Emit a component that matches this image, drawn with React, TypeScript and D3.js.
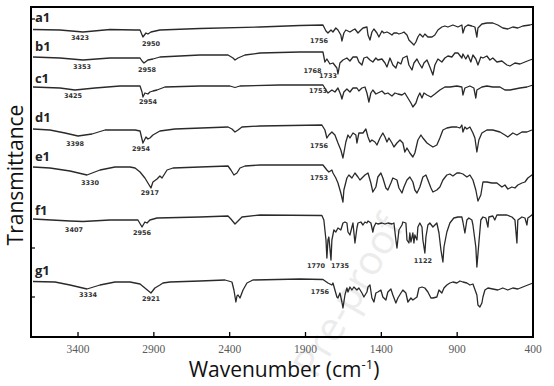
import React from "react";
import * as d3 from "d3";

type P = [number, number];

const xTickValues = [3400, 2900, 2400, 1900, 1400, 900, 400];
const yTickValues = [40, 89, 318];

const a1Data: P[] = [
  [3697, 307.5], [3519, 307], [3367, 305], [3189, 307.5], [3024, 307], [2991, 307], [2972, 300], [2952, 304], [2939, 303], [2919, 305], [2860, 307], [2596, 308.5], [2200, 310], [1937, 311.5], [1785, 312],
  [1765, 306], [1752, 304], [1732, 307], [1719, 305], [1700, 309], [1686, 307], [1667, 302], [1660, 296], [1647, 304], [1634, 307], [1607, 305], [1587, 307], [1574, 308], [1554, 304], [1535, 307], [1521, 309], [1495, 310], [1488, 302], [1475, 297], [1462, 305], [1449, 308], [1429, 304], [1416, 300], [1396, 306], [1383, 304], [1363, 305], [1350, 304], [1330, 302], [1317, 304], [1297, 304], [1284, 303], [1264, 304], [1251, 305], [1231, 302], [1218, 297], [1198, 294], [1185, 292], [1172, 295], [1159, 300], [1146, 303], [1126, 300], [1113, 303], [1093, 300], [1066, 300], [1047, 302], [1027, 307], [1001, 310], [981, 311], [961, 310], [928, 312], [895, 310], [869, 312], [862, 304], [849, 310], [829, 312], [803, 311], [783, 310], [770, 300], [763, 309], [737, 313], [704, 314], [665, 314], [632, 312], [599, 309], [566, 308], [533, 310], [500, 309], [467, 311], [420, 312], [400, 313],
];

const b1Data: P[] = [
  [3697, 280], [3519, 279], [3367, 277], [3189, 279], [2991, 279], [2978, 276], [2965, 274], [2939, 277], [2906, 278], [2860, 280], [2596, 282], [2411, 282], [2378, 279], [2365, 277], [2345, 279], [2299, 282], [2200, 284], [1937, 285], [1785, 285],
  [1772, 275], [1759, 278], [1739, 273], [1719, 274], [1693, 269], [1686, 263], [1673, 274], [1653, 277], [1627, 279], [1607, 276], [1587, 280], [1561, 280], [1548, 275], [1528, 272], [1515, 279], [1495, 280], [1475, 277], [1456, 275], [1436, 279], [1423, 277], [1396, 278], [1376, 274], [1363, 270], [1343, 279], [1324, 272], [1304, 269], [1291, 275], [1271, 273], [1258, 279], [1231, 281], [1218, 272], [1198, 267], [1185, 274], [1165, 278], [1152, 274], [1132, 269], [1119, 274], [1099, 277], [1080, 270], [1060, 262], [1047, 272], [1027, 278], [1001, 275], [981, 279], [961, 281], [935, 280], [915, 284], [895, 284], [869, 279], [862, 283], [843, 278], [829, 282], [810, 275], [796, 282], [777, 278], [763, 272], [744, 280], [730, 279], [704, 281], [684, 277], [665, 279], [638, 275], [605, 276], [572, 272], [552, 271], [519, 274], [486, 273], [453, 275], [420, 277], [400, 278],
];

const c1Data: P[] = [
  [3697, 250], [3519, 249], [3420, 247], [3288, 249], [3123, 251], [2991, 251], [2978, 245], [2972, 240], [2959, 244], [2939, 243], [2926, 245], [2906, 246], [2879, 247], [2827, 250], [2596, 251], [2398, 251], [2365, 249.5], [2332, 251], [2069, 252], [1785, 252],
  [1765, 247], [1752, 244], [1726, 247], [1706, 245], [1686, 249], [1667, 242], [1660, 238], [1647, 245], [1627, 248], [1607, 245], [1587, 249], [1561, 249], [1548, 246], [1528, 249], [1508, 250], [1495, 244], [1482, 235], [1469, 244], [1456, 247], [1436, 243], [1423, 244], [1396, 246], [1376, 243], [1357, 244], [1330, 241], [1310, 244], [1291, 243], [1264, 242], [1245, 244], [1225, 239], [1205, 234], [1192, 230], [1172, 234], [1159, 240], [1146, 244], [1132, 239], [1119, 244], [1099, 242], [1073, 240], [1047, 243], [1014, 247], [981, 250], [948, 250], [902, 251], [869, 250], [862, 242], [849, 249], [816, 251], [790, 249], [777, 239], [770, 247], [737, 250], [704, 251], [665, 250], [618, 250], [585, 247], [552, 247], [519, 248], [486, 249], [440, 250], [400, 252],
];

const d1Data: P[] = [
  [3697, 208], [3585, 207], [3486, 204], [3400, 201], [3308, 203], [3222, 207], [3024, 207], [2991, 206], [2972, 194], [2952, 200], [2939, 198], [2926, 199], [2906, 202], [2860, 206], [2761, 208], [2411, 210], [2385, 208], [2365, 205], [2345, 207], [2319, 210], [2200, 211], [1792, 212],
  [1772, 207], [1759, 199], [1746, 202], [1726, 205], [1706, 202], [1686, 194], [1667, 187], [1653, 179], [1634, 195], [1620, 202], [1607, 199], [1587, 204], [1568, 202], [1561, 194], [1548, 204], [1521, 204], [1502, 208], [1488, 200], [1475, 195], [1462, 197], [1442, 195], [1429, 192], [1409, 199], [1390, 204], [1376, 200], [1363, 195], [1350, 199], [1330, 194], [1317, 190], [1297, 194], [1277, 197], [1258, 194], [1245, 185], [1231, 189], [1212, 184], [1192, 180], [1179, 184], [1159, 197], [1139, 202], [1126, 199], [1099, 194], [1080, 192], [1060, 190], [1034, 192], [1014, 199], [994, 207], [968, 209], [935, 210], [902, 210], [882, 209], [869, 212], [862, 205], [849, 210], [836, 208], [816, 210], [796, 204], [783, 199], [770, 185], [757, 197], [737, 204], [704, 207], [665, 207], [618, 205], [585, 202], [566, 200], [533, 204], [506, 202], [473, 205], [440, 205], [407, 207], [400, 207.5],
];

const e1Data: P[] = [
  [3697, 170], [3585, 169], [3453, 166], [3341, 162], [3255, 167], [3156, 170], [3057, 170], [3024, 169], [2991, 165], [2959, 159], [2919, 149], [2906, 155], [2879, 158], [2860, 161], [2846, 159], [2813, 167], [2774, 169], [2596, 170], [2411, 171], [2392, 167], [2372, 162], [2352, 164], [2332, 169], [2299, 171], [2200, 172], [1785, 172],
  [1759, 167], [1746, 165], [1726, 167], [1719, 164], [1700, 159], [1686, 154], [1667, 144], [1653, 135], [1647, 147], [1627, 159], [1614, 162], [1594, 159], [1574, 164], [1554, 160], [1541, 157], [1521, 160], [1508, 162], [1488, 164], [1469, 154], [1456, 145], [1436, 150], [1423, 160], [1403, 164], [1390, 159], [1370, 149], [1357, 147], [1337, 154], [1324, 159], [1297, 157], [1284, 149], [1264, 144], [1251, 150], [1231, 157], [1212, 160], [1192, 155], [1179, 147], [1165, 144], [1146, 150], [1126, 160], [1106, 162], [1093, 157], [1073, 149], [1060, 145], [1034, 147], [1014, 150], [994, 157], [968, 162], [948, 163], [928, 161], [902, 164], [882, 164], [862, 163], [836, 160], [816, 162], [796, 157], [777, 147], [763, 136], [744, 142], [730, 155], [704, 155], [671, 154], [638, 154], [605, 150], [585, 152], [566, 148], [539, 150], [519, 149], [500, 152], [473, 154], [453, 155], [434, 159], [407, 162], [400, 163],
];

const f1Data: P[] = [
  [3697, 118], [3453, 116], [3367, 115.5], [3189, 117], [3005, 117], [2978, 110], [2959, 115], [2945, 114], [2926, 117], [2879, 119], [2596, 120], [2411, 121], [2392, 118], [2365, 113], [2345, 116], [2319, 120], [2200, 122], [1792, 121.5],
  [1779, 117], [1765, 97], [1759, 79], [1752, 97], [1746, 100], [1732, 77], [1726, 97], [1713, 107], [1700, 105], [1686, 109], [1667, 107], [1653, 114], [1640, 115], [1627, 114], [1620, 105], [1607, 102], [1594, 110], [1587, 114], [1574, 94], [1561, 109], [1554, 114], [1535, 115], [1521, 112], [1508, 115], [1495, 114], [1488, 116], [1469, 114], [1456, 105], [1449, 110], [1436, 114], [1423, 113], [1396, 114], [1376, 113], [1357, 114], [1330, 113], [1317, 114], [1304, 97], [1297, 89], [1284, 107], [1264, 112], [1258, 115], [1238, 114], [1231, 97], [1218, 94], [1212, 104], [1205, 95], [1192, 104], [1185, 94], [1179, 102], [1165, 97], [1159, 110], [1146, 114], [1132, 110], [1126, 97], [1113, 84], [1106, 100], [1093, 112], [1080, 114], [1060, 110], [1047, 112], [1034, 114], [1020, 104], [1007, 87], [994, 75], [987, 90], [968, 105], [948, 114], [922, 119], [895, 120], [869, 120], [862, 115], [849, 104], [836, 117], [823, 119], [803, 117], [796, 112], [777, 90], [770, 70], [757, 94], [744, 117], [730, 120], [711, 119], [697, 110], [691, 120], [665, 121], [652, 117], [638, 122], [572, 122], [539, 120], [519, 117], [506, 94], [500, 117], [473, 120], [453, 119], [440, 112], [434, 119], [407, 122], [400, 124],
];

const g1Data: P[] = [
  [3697, 55.5], [3552, 55], [3453, 52], [3341, 48], [3255, 52], [3156, 55], [3057, 55], [2991, 53], [2959, 49], [2919, 44], [2893, 49], [2860, 52], [2840, 54], [2794, 55], [2596, 56], [2431, 57], [2385, 55], [2372, 47], [2359, 35], [2352, 41], [2345, 42], [2332, 39], [2312, 47], [2286, 54], [2247, 57], [1937, 58], [1785, 57.5],
  [1752, 54], [1726, 52], [1719, 54], [1706, 47], [1693, 40], [1686, 39], [1673, 44], [1660, 35], [1653, 29], [1640, 42], [1627, 49], [1620, 45], [1607, 50], [1594, 47], [1581, 50], [1561, 47], [1548, 49], [1528, 44], [1515, 40], [1495, 45], [1488, 50], [1475, 52], [1462, 39], [1449, 35], [1436, 44], [1423, 45], [1403, 47], [1390, 40], [1370, 37], [1357, 45], [1337, 48], [1324, 42], [1304, 34], [1291, 39], [1271, 44], [1258, 47], [1238, 44], [1225, 35], [1205, 39], [1192, 37], [1165, 40], [1152, 49], [1132, 50], [1113, 49], [1093, 45], [1073, 39], [1060, 39], [1034, 40], [1020, 47], [1001, 44], [987, 49], [968, 52], [948, 54], [928, 55], [902, 54], [882, 56], [862, 55], [836, 54], [816, 52], [796, 53], [770, 42], [763, 32], [750, 30], [737, 34], [730, 40], [717, 47], [697, 49], [665, 48], [632, 47], [599, 49], [566, 47], [533, 49], [500, 48], [467, 50], [434, 52], [400, 54],
];

const seriesNames = ["a1", "b1", "c1", "d1", "e1", "f1", "g1"];
const seriesData = [a1Data, b1Data, c1Data, d1Data, e1Data, f1Data, g1Data];
// [wavenumber, transmittance] where each series name is written
const seriesLabelPos: P[] = [[3684, 315], [3684, 286], [3684, 254], [3684, 215], [3684, 176], [3684, 122], [3684, 62]];

// peak annotations: text, wavenumber, transmittance of text baseline
const peakTexts = ["3423", "2950", "1756", "3353", "2958", "1768", "1733", "3425", "2954", "1753", "3398", "2954", "1756", "3330", "2917", "1753", "3407", "2956", "1770", "1735", "1122", "3334", "2921", "1756"];
const peakWn = [3387, 2919, 1811, 3374, 2945, 1854, 1752, 3433, 2939, 1818, 3420, 2985, 1811, 3321, 2926, 1811, 3427, 2978, 1831, 1673, 1126, 3334, 2919, 1805];
const peakT = [297, 291, 294, 268, 265, 264.5, 259, 239, 233, 244, 191, 186, 189, 152, 142, 157, 105, 102, 69, 69, 74, 40, 36, 43];

const W = 554;
const H = 386;
const M = { left: 31, right: 533, top: 7, bottom: 337 };

export default function App() {
  const x = d3.scaleLinear().domain([3710, 400]).range([M.left, M.right]);
  const y = d3.scaleLinear().domain([0, 330]).range([M.bottom, M.top]);
  const line = d3
    .line<P>()
    .x((d) => x(d[0]))
    .y((d) => y(d[1]))
    .curve(d3.curveLinear);

  return (
    <svg
      width={W}
      height={H}
      style={{ position: "absolute", left: 0, top: 0, background: "#fff" }}
    >
      <rect x={0} y={0} width={W} height={H} fill="#fff" />
      {/* watermark */}
      <text
        x={0}
        y={0}
        transform={`translate(405,226) rotate(-60)`}
        textAnchor="end"
        fontFamily="'Open Sans', sans-serif"
        fontSize={40}
        fill="#ececec"
      >
        Pre-proof
      </text>

      {seriesData.map((d, i) => (
        <path
          key={seriesNames[i]}
          d={line(d) || ""}
          fill="none"
          stroke="#2a2a2a"
          strokeWidth={1.3}
          strokeLinejoin="round"
        />
      ))}

      {seriesNames.map((n, i) => (
        <text
          key={"lbl" + n}
          x={x(seriesLabelPos[i][0])}
          y={y(seriesLabelPos[i][1])}
          fontFamily="'Open Sans', sans-serif"
          fontWeight="bold"
          fontSize={13}
          fill="#222"
        >
          {n}
        </text>
      ))}

      {peakTexts.map((t, i) => (
        <text
          key={"pk" + i}
          x={x(peakWn[i])}
          y={y(peakT[i])}
          textAnchor="middle"
          fontFamily="'DejaVu Sans', sans-serif"
          fontWeight="bold"
          fontSize={6.5}
          fill="#333"
        >
          {t}
        </text>
      ))}

      {/* frame */}
      <rect
        x={M.left}
        y={M.top}
        width={M.right - M.left}
        height={M.bottom - M.top}
        fill="none"
        stroke="#000"
        strokeWidth={2}
      />
      {xTickValues.map((v) => (
        <g key={"xt" + v}>
          <line x1={x(v)} x2={x(v)} y1={M.bottom} y2={M.bottom - 5} stroke="#000" strokeWidth={1.3} />
          <text
            x={x(v)}
            y={M.bottom + 16}
            textAnchor="middle"
            fontFamily="'Liberation Serif', serif"
            fontSize={11.5}
            fill="#5a5a5a"
          >
            {v}
          </text>
        </g>
      ))}
      {yTickValues.map((v) => (
        <line key={"yt" + v} x1={M.left} x2={M.left + 4} y1={y(v)} y2={y(v)} stroke="#000" strokeWidth={1.2} />
      ))}

      <text
        transform={`translate(23,${(M.top + M.bottom) / 2 + 3}) rotate(-90)`}
        textAnchor="middle"
        fontFamily="'Open Sans', sans-serif"
        fontSize={21}
        fill="#111"
      >
        Transmittance
      </text>
      <text
        x={(M.left + M.right) / 2 + 2}
        y={377}
        textAnchor="middle"
        fontFamily="'Open Sans', sans-serif"
        fontSize={21}
        fill="#111"
      >
        Wavenumber (cm
        <tspan dy={-8} fontSize={13}>-1</tspan>
        <tspan dy={8}>)</tspan>
      </text>
    </svg>
  );
}
